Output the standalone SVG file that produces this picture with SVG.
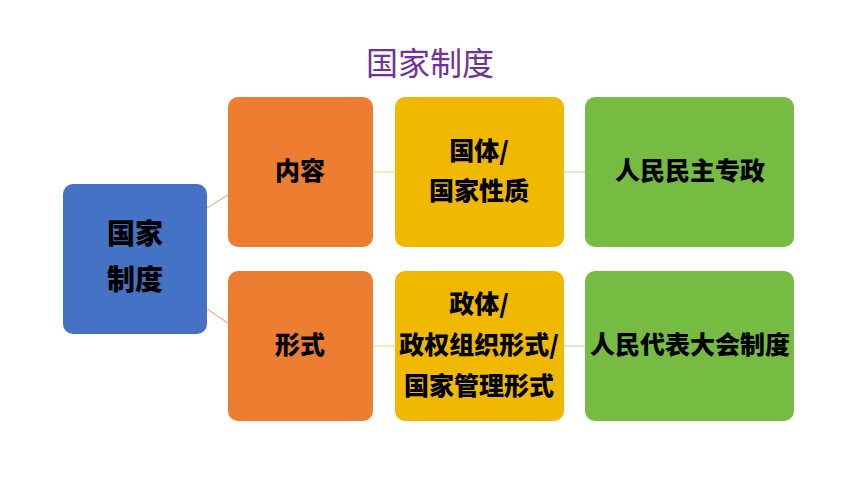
<svg xmlns="http://www.w3.org/2000/svg" width="860" height="484" viewBox="0 0 860 484">
<style>
.t{font-family:"Noto Sans CJK SC","Noto Sans",sans-serif;font-weight:900;font-size:25px;fill:#000;text-anchor:middle;dominant-baseline:central}
.big{font-size:28px}
.title{font-family:"Noto Sans CJK SC","Noto Sans",sans-serif;font-size:32px;fill:#7030A0;text-anchor:middle;dominant-baseline:central}
.blue{fill:#4472C4}.orange{fill:#ED7D31}.yellow{fill:#F1B800}.green{fill:#76BC43}
</style>
<rect width="860" height="484" fill="#fff"/>
<text class="title" x="430" y="61">国家制度</text>
<g id="connectors" fill="none" stroke-width="1.2">
<line x1="207" y1="208" x2="228" y2="195" stroke="#F4B183"/>
<line x1="207" y1="309" x2="228" y2="323" stroke="#F4B183"/>
<line x1="373" y1="172" x2="395" y2="172" stroke="#F8DC80"/>
<line x1="373" y1="346" x2="395" y2="346" stroke="#F8DC80"/>
<line x1="564" y1="172" x2="585" y2="172" stroke="#BBDDA1"/>
<line x1="564" y1="346" x2="585" y2="346" stroke="#BBDDA1"/>
</g>
<g id="n-root"><rect class="blue" x="63" y="184" width="144" height="150" rx="10"/>
<text class="t big" x="135" y="232">国家</text><text class="t big" x="135" y="278">制度</text></g>
<g id="n-neirong"><rect class="orange" x="228" y="97" width="145" height="150" rx="10"/>
<text class="t" x="300" y="169">内容</text></g>
<g id="n-xingshi"><rect class="orange" x="228" y="271" width="145" height="150" rx="10"/>
<text class="t" x="300" y="343">形式</text></g>
<g id="n-guoti"><rect class="yellow" x="395" y="97" width="169" height="150" rx="10"/>
<text class="t" x="479" y="149">国体/</text><text class="t" x="479" y="189">国家性质</text></g>
<g id="n-zhengti"><rect class="yellow" x="395" y="271" width="169" height="150" rx="10"/>
<text class="t" x="479" y="302">政体/</text><text class="t" x="479" y="343">政权组织形式/</text><text class="t" x="479" y="384">国家管理形式</text></g>
<g id="n-zhuanzheng"><rect class="green" x="585" y="97" width="209" height="150" rx="10"/>
<text class="t" x="690" y="169">人民民主专政</text></g>
<g id="n-renda"><rect class="green" x="585" y="271" width="209" height="150" rx="10"/>
<text class="t" x="690" y="343">人民代表大会制度</text></g>
</svg>
